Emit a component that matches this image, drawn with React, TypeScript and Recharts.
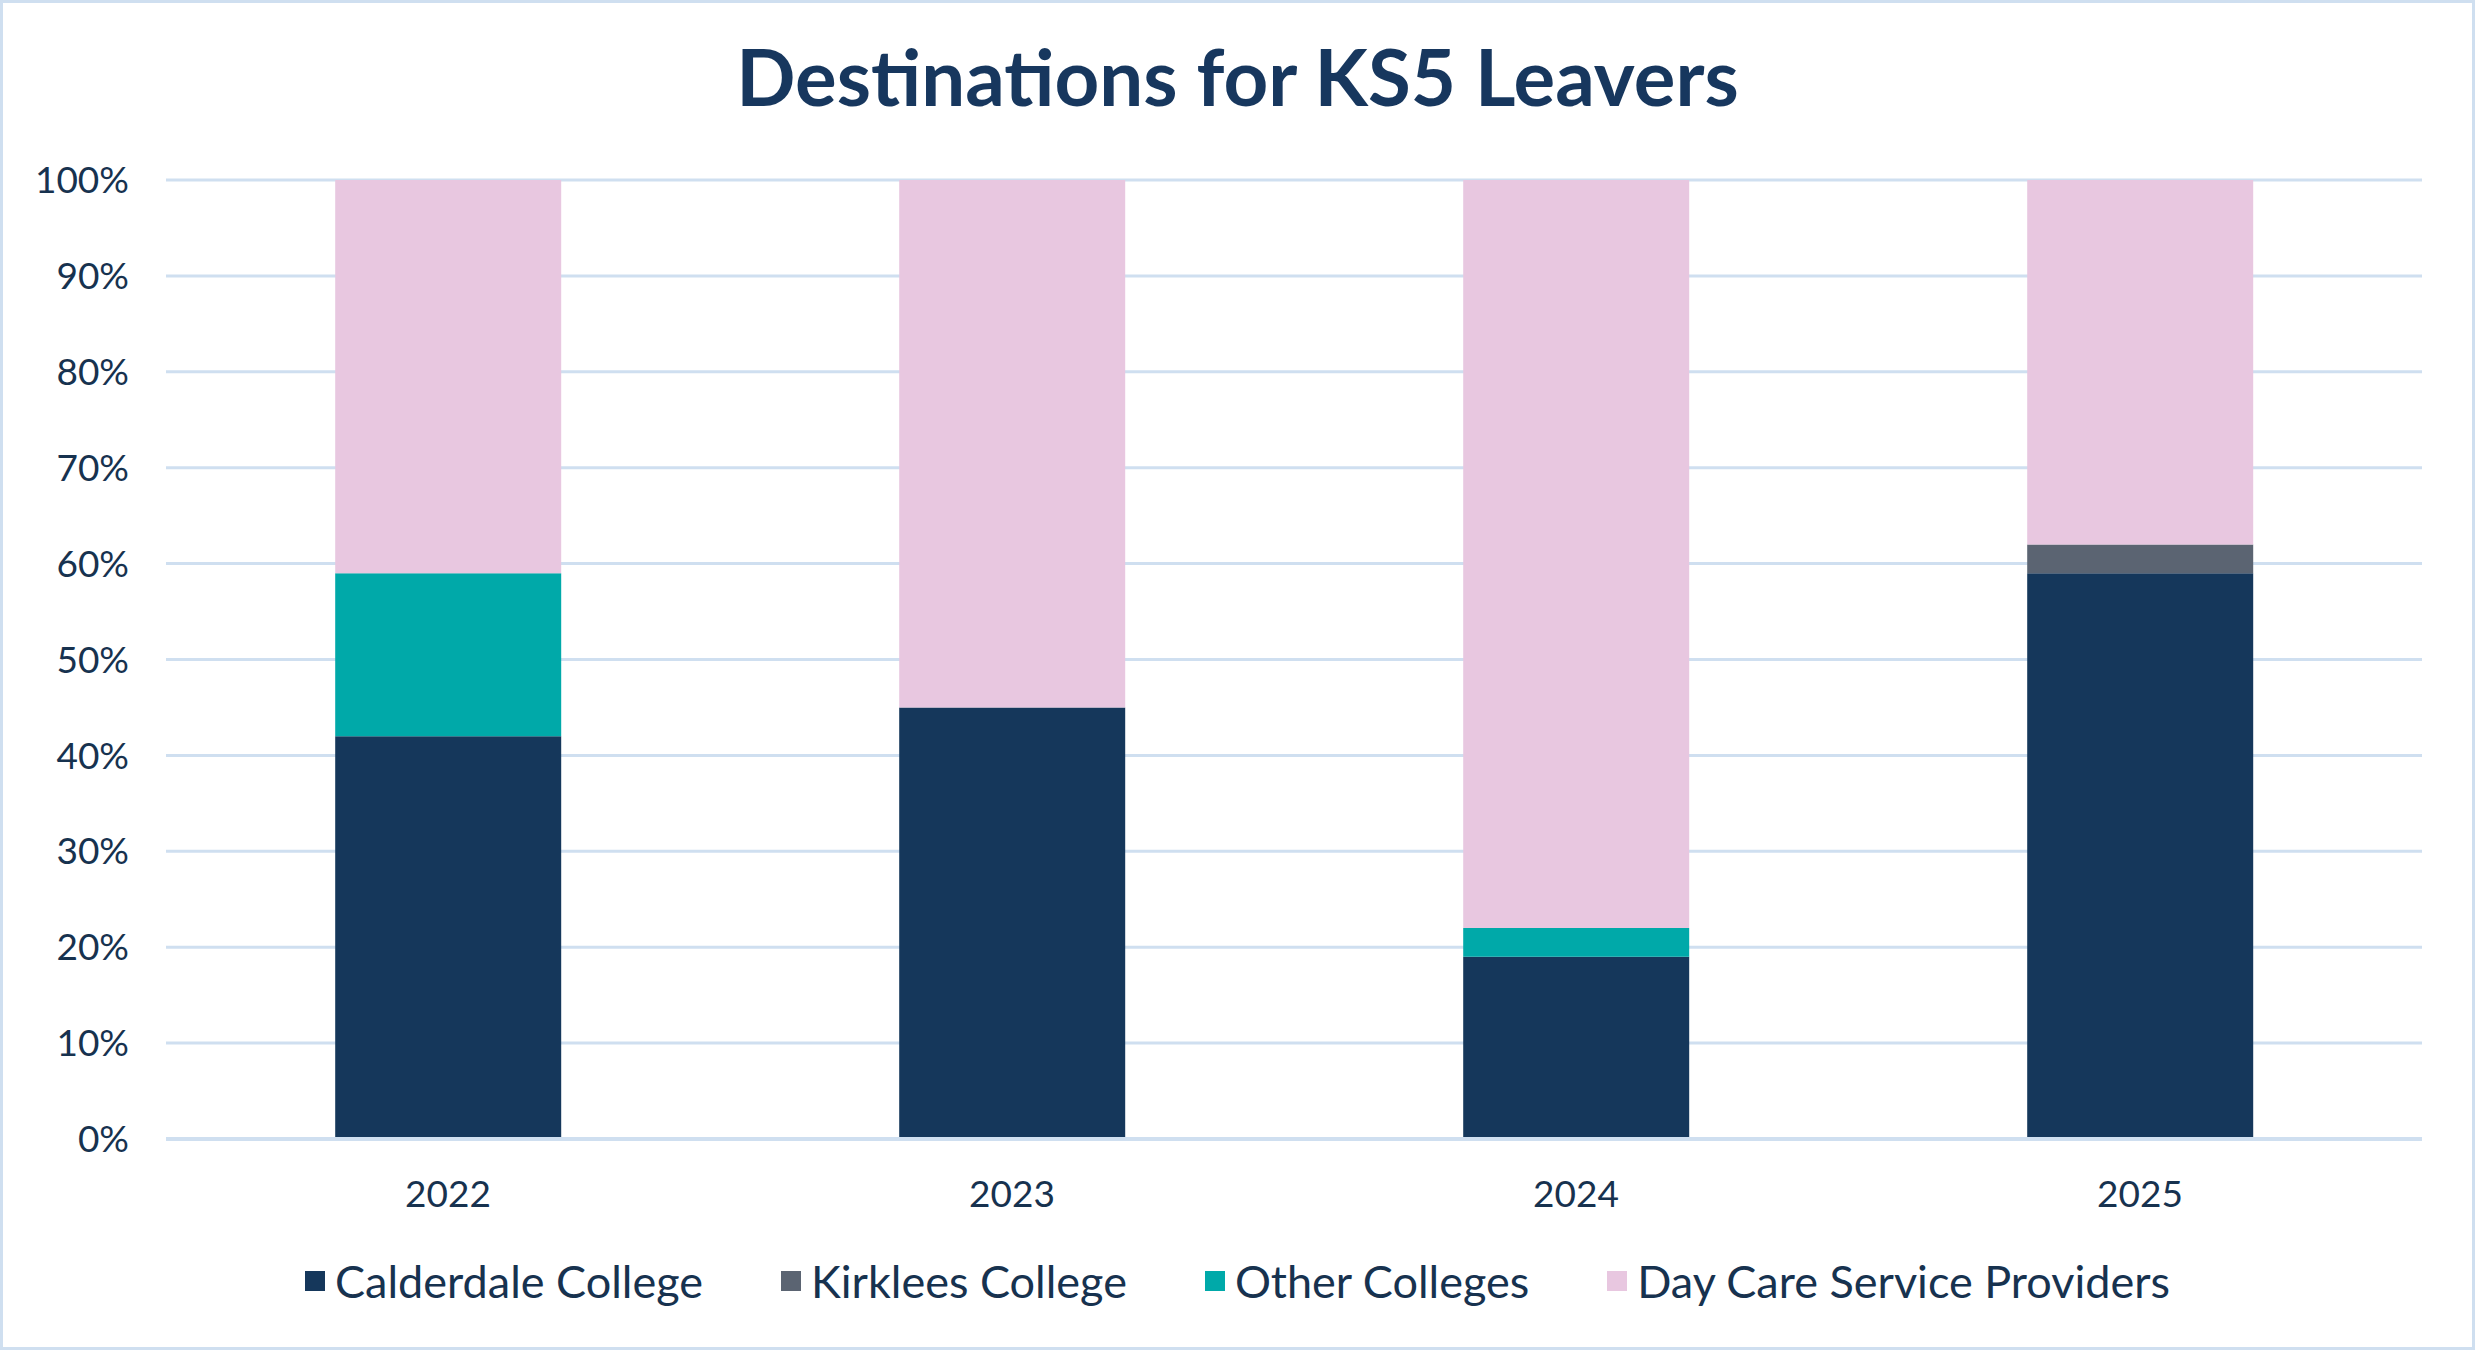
import React from 'react';
import { BarChart, Bar, XAxis, YAxis, CartesianGrid, Legend } from 'recharts';

const years = ['2022', '2023', '2024', '2025'];
const calderdale = [42, 45, 19, 59];
const kirklees = [0, 0, 0, 3];
const otherColleges = [17, 0, 3, 0];
const dayCare = [41, 55, 78, 38];
const yTicks = [0, 10, 20, 30, 40, 50, 60, 70, 80, 90, 100];

const SERIES = [
  { key: 'calderdale', name: 'Calderdale College', color: '#15375b' },
  { key: 'kirklees', name: 'Kirklees College', color: '#5b6472' },
  { key: 'other', name: 'Other Colleges', color: '#00a9a9' },
  { key: 'dayCare', name: 'Day Care Service Providers', color: '#e8c7e0' },
];

const data = years.map((year, i) => ({
  year,
  calderdale: calderdale[i],
  kirklees: kirklees[i],
  other: otherColleges[i],
  dayCare: dayCare[i],
}));

const TEXT = '#17324f';
const GRID = '#cfdff0';
const FONT = 'Lato, "Open Sans", sans-serif';

const LegendContent = () => (
  <div
    style={{
      display: 'flex',
      justifyContent: 'center',
      alignItems: 'center',
      height: 60,
      fontFamily: FONT,
      fontSize: 45,
      color: TEXT,
    }}
  >
    {SERIES.map((s, i) => (
      <div
        key={s.key}
        style={{ display: 'flex', alignItems: 'center', marginLeft: i === 0 ? 0 : 78 }}
      >
        <span style={{ width: 20, height: 20, background: s.color, marginRight: 10, display: 'inline-block' }} />
        <span>{s.name}</span>
      </div>
    ))}
  </div>
);

export default function App() {
  return (
    <div style={{ position: 'relative', width: 2475, height: 1350, background: '#fff' }}>
      <style>{'body{margin:0}'}</style>
      <div
        style={{
          position: 'absolute',
          top: 36,
          left: 0,
          width: 2475,
          height: 80,
          lineHeight: '80px',
          textAlign: 'center',
          fontFamily: FONT,
          fontWeight: 700,
          fontSize: 78,
          color: '#17375e',
        }}
      >
        Destinations for KS5 Leavers
      </div>
      <BarChart
        width={2475}
        height={1350}
        data={data}
        margin={{ top: 180, right: 53, bottom: 39, left: 0 }}
        barCategoryGap="30%"
      >
        <CartesianGrid vertical={false} stroke={GRID} strokeWidth={3} />
        <XAxis
          dataKey="year"
          axisLine={{ stroke: GRID, strokeWidth: 4 }}
          tickLine={false}
          height={112}
          tickMargin={36}
          tick={{ fill: TEXT, fontSize: 37, fontFamily: FONT }}
        />
        <YAxis
          domain={[0, 100]}
          ticks={yTicks}
          width={166}
          axisLine={false}
          tickLine={false}
          tickMargin={31}
          tickFormatter={(v) => `${v}%`}
          tick={{ fill: TEXT, fontSize: 37, fontFamily: FONT }}
        />
        <Legend verticalAlign="bottom" content={<LegendContent />} wrapperStyle={{ left: 0, width: 2475 }} />
        {SERIES.map((s) => (
          <Bar key={s.key} dataKey={s.key} name={s.name} stackId="a" fill={s.color} isAnimationActive={false} />
        ))}
      </BarChart>
      <div
        style={{
          position: 'absolute',
          inset: 0,
          border: `3px solid ${GRID}`,
          pointerEvents: 'none',
        }}
      />
    </div>
  );
}
